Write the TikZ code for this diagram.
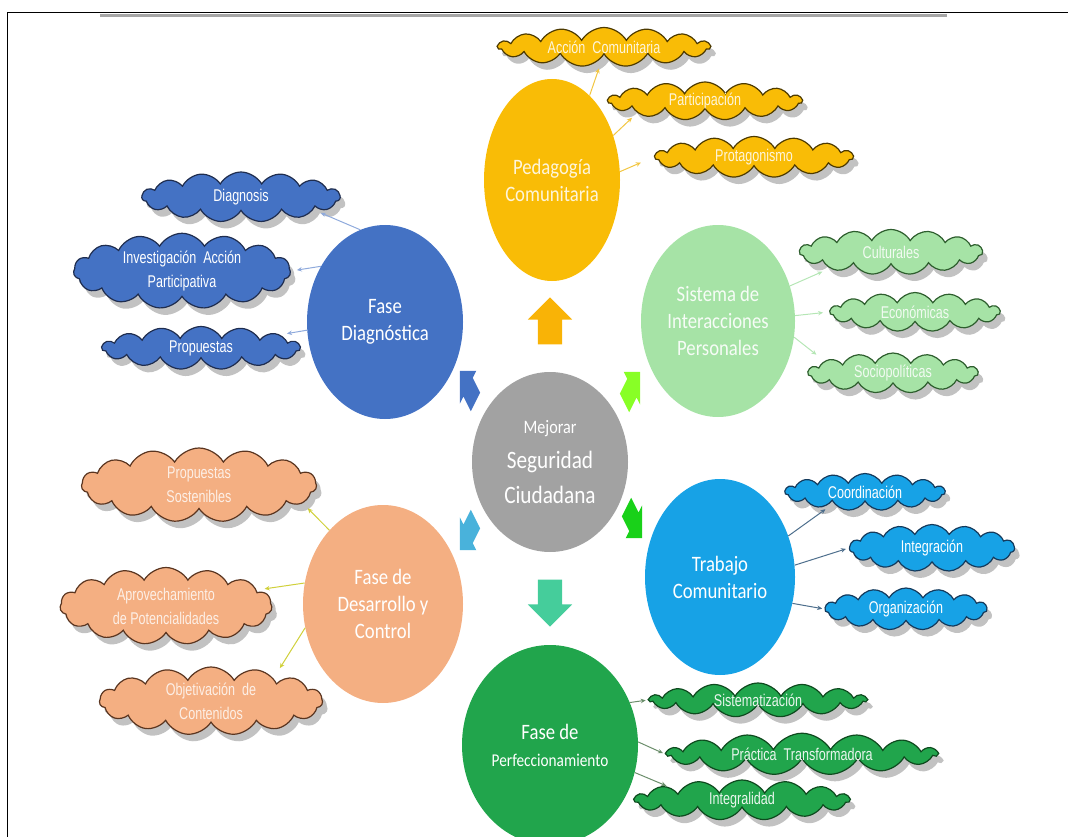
\documentclass[tikz,border=0pt]{standalone}
\usepackage{fontspec}
\setmainfont{Carlito}
\newfontfamily\circlefont{Carlito}[FakeStretch=0.85]
\newfontfamily\cloudfont{Liberation Sans}[FakeStretch=0.74]
\usetikzlibrary{arrows.meta}
\usetikzlibrary{shapes.geometric}
\usetikzlibrary{shapes.symbols}
\usetikzlibrary{shapes.arrows}
\usetikzlibrary{shadows}

\definecolor{centroGris}{HTML}{A2A2A2}
\definecolor{pedFill}{HTML}{F9BC06}
\definecolor{diagFill}{HTML}{4472C4}
\definecolor{sistFill}{HTML}{A6E3A6}
\definecolor{trabFill}{HTML}{17A2E6}
\definecolor{perfFill}{HTML}{21A54C}
\definecolor{desaFill}{HTML}{F4AF82}
\definecolor{pedLine}{HTML}{4D3A00}
\definecolor{diagLine}{HTML}{1F2D4F}
\definecolor{sistLine}{HTML}{2E5E2E}
\definecolor{trabLine}{HTML}{143A5C}
\definecolor{perfLine}{HTML}{0E4A1E}
\definecolor{desaLine}{HTML}{5A3520}
\definecolor{pedLink}{HTML}{F2C642}
\definecolor{diagLink}{HTML}{8FAADC}
\definecolor{sistLink}{HTML}{B5E6B5}
\definecolor{trabLink}{HTML}{4D6E8C}
\definecolor{perfLink}{HTML}{6B8E6B}
\definecolor{desaLink}{HTML}{D0D03A}

\begin{document}
\begin{tikzpicture}[x=1pt, y=-1pt,
  fase/.style={ellipse, inner sep=0pt, align=center, text=white, font=\circlefont\fontsize{22}{27}\selectfont},
  nube/.style={cloud, cloud puffs=15, cloud puff arc=120, cloud ignores aspect, inner sep=0pt, align=center, line width=1.2pt, font=\cloudfont\fontsize{17}{24}\selectfont, drop shadow={shadow xshift=5pt, shadow yshift=-7pt, fill=black!40, opacity=0.6}},
  flecha/.style={single arrow, inner xsep=0pt, inner ysep=12pt, single arrow head extend=10pt, draw=none},
  flechita/.style={single arrow, inner xsep=0pt, inner ysep=13pt, single arrow head extend=10pt, draw=none, xscale=0.5},
  enlace/.style={-{Stealth[length=5pt, width=4.5pt]}, line width=1pt}]

\useasboundingbox (0,0) rectangle (1068,837);
\draw[line width=1.6pt] (7.5,837) -- (7.5,12.5) -- (1068,12.5);
\fill[black!35] (100,14) rectangle (947,17.5);

% centro y fases
\node[fase, fill=centroGris, minimum width=156pt, minimum height=180pt, font=\circlefont\fontsize{25}{35}\selectfont] (centro) at (550,462) {{\fontsize{19}{35}\selectfont Mejorar}\\Seguridad\\Ciudadana};
\node[fase, fill=pedFill, text=pedFill!15, minimum width=136pt, minimum height=202pt] (ped) at (552,180) {Pedagogía\\Comunitaria};
\node[fase, fill=diagFill, minimum width=156pt, minimum height=194pt] (diag) at (385,322) {Fase\\Diagnóstica};
\node[fase, fill=sistFill, text=white!90!sistFill, minimum width=154pt, minimum height=192pt] (sist) at (718,321) {Sistema de\\Interacciones\\Personales};
\node[fase, fill=trabFill, minimum width=150pt, minimum height=196pt] (trab) at (720,577) {Trabajo\\Comunitario};
\node[fase, fill=perfFill, minimum width=176pt, minimum height=200pt] (perf) at (550,745) {Fase de\\{\fontsize{18}{24}\selectfont Perfeccionamiento}};
\node[fase, fill=desaFill, minimum width=160pt, minimum height=198pt] (desa) at (383,604) {Fase de\\Desarrollo y\\Control};

% flechas de bloque
\node[flecha, fill=pedFill!95!red, rotate=90, minimum height=47pt] (fped) at (550,327) {};
\node[flecha, fill=perfFill!70!cyan!80!white, rotate=-90, minimum height=47pt] (fperf) at (550,597) {};
\node[flechita, fill=diagFill, rotate=135, minimum height=44pt] (fdiag) at (470,391) {};
\node[flechita, fill=green!55!yellow!85!white, rotate=45, minimum height=44pt] (fsist) at (630,392) {};
\node[flechita, fill=green!80!black!90!white, rotate=-45, minimum height=44pt] (ftrab) at (632,518) {};
\node[flechita, fill=cyan!70!teal!80!white, rotate=-135, minimum height=44pt] (fdesa) at (470,530) {};

% nubes
\node[nube, fill=pedFill, draw=pedLine, text=pedFill!15, minimum width=212pt, minimum height=39pt] (accion) at (604,47) {Acción~~Comunitaria};
\node[nube, fill=pedFill, draw=pedLine, text=pedFill!15, minimum width=194pt, minimum height=38pt] (particip) at (705,101) {Participación};
\node[nube, fill=pedFill, draw=pedLine, text=pedFill!15, minimum width=198pt, minimum height=41pt] (protag) at (754,157) {Protagonismo};

\node[nube, fill=diagFill, draw=diagLine, text=white, minimum width=198pt, minimum height=50pt] (diagnosis) at (241,197) {Diagnosis};
\node[nube, fill=diagFill, draw=diagLine, text=white, minimum width=217pt, minimum height=72pt] (investig) at (182,271) {Investigación~~Acción\\Participativa};
\node[nube, fill=diagFill, draw=diagLine, text=white, minimum width=198pt, minimum height=43pt] (propuestas) at (201,348) {Propuestas};

\node[nube, fill=sistFill, draw=sistLine, text=white!85!sistFill, minimum width=183pt, minimum height=45pt] (cultural) at (891,252) {Culturales};
\node[nube, fill=sistFill, draw=sistLine, text=white!85!sistFill, minimum width=170pt, minimum height=39pt] (econ) at (915,312) {Económicas};
\node[nube, fill=sistFill, draw=sistLine, text=white!85!sistFill, minimum width=170pt, minimum height=40pt] (socio) at (893,373) {Sociopolíticas};

\node[nube, fill=trabFill, draw=trabLine, text=white, minimum width=160pt, minimum height=37pt] (coord) at (865,492) {Coordinación};
\node[nube, fill=trabFill, draw=trabLine, text=white, minimum width=165pt, minimum height=47pt] (integ) at (932,548) {Integración};
\node[nube, fill=trabFill, draw=trabLine, text=white, minimum width=162pt, minimum height=42pt] (organ) at (906,609) {Organización};

\node[nube, fill=perfFill, draw=perfLine, text=white!90!perfFill, minimum width=217pt, minimum height=34pt] (sistem) at (758,700) {Sistematización};
\node[nube, fill=perfFill, draw=perfLine, text=white!90!perfFill, minimum width=270pt, minimum height=38pt] (practica) at (802,754) {Práctica~~Transformadora};
\node[nube, fill=perfFill, draw=perfLine, text=white!90!perfFill, minimum width=215pt, minimum height=40pt] (integral) at (742,800) {Integralidad};

\node[nube, fill=desaFill, draw=desaLine, text=white!80!desaFill, minimum width=235pt, minimum height=74pt] (propsost) at (199,485) {Propuestas\\Sostenibles};
\node[nube, fill=desaFill, draw=desaLine, text=white!80!desaFill, minimum width=212pt, minimum height=77pt] (aprov) at (166,606) {Aprovechamiento\\de Potencialidades};
\node[nube, fill=desaFill, draw=desaLine, text=white!80!desaFill, minimum width=223pt, minimum height=68pt] (objet) at (211,701) {Objetivación~~de\\Contenidos};

% enlaces
\draw[enlace, pedLink, shorten >=13pt] (ped.66) -- (accion.265);
\draw[enlace, pedLink, shorten >=7pt] (ped.36) -- (particip.190);
\draw[enlace, pedLink, shorten >=14pt] (ped.7) -- (protag.west);

\draw[enlace, diagLink, shorten >=8pt] (diag.105) -- (diagnosis.-10);
\draw[enlace, diagLink, shorten >=6pt] (diag.139) -- (investig.east);
\draw[enlace, diagLink, shorten >=28pt] (diag.186) -- (propuestas);

\draw[enlace, sistLink, shorten >=8pt] (sist.26) -- (cultural.195);
\draw[enlace, sistLink, shorten >=6pt] (sist.4) -- (econ.west);
\draw[enlace, sistLink, shorten >=10pt] (sist.-12) -- (socio.170);

\draw[enlace, trabLink, shorten >=10pt] (trab.31) -- (coord.200);
\draw[enlace, trabLink, shorten >=3pt] (trab.9) -- (integ.west);
\draw[enlace, trabLink, shorten >=2pt] (trab.-20) -- (organ.west);

\draw[enlace, perfLink, shorten >=2pt] (perf.28) -- (sistem.west);
\draw[enlace, perfLink, shorten >=2pt] (perf.2) -- (practica.west);
\draw[enlace, perfLink, shorten >=14pt] (perf.-18) -- (integral.172);

\draw[enlace, desaLink, shorten >=7pt] (desa.126) -- (propsost.-10);
\draw[enlace, desaLink, shorten >=8pt] (desa.165) -- (aprov.10);
\draw[enlace, desaLink, shorten >=12pt] (desa.197) -- (objet.20);

\end{tikzpicture}
\end{document}
